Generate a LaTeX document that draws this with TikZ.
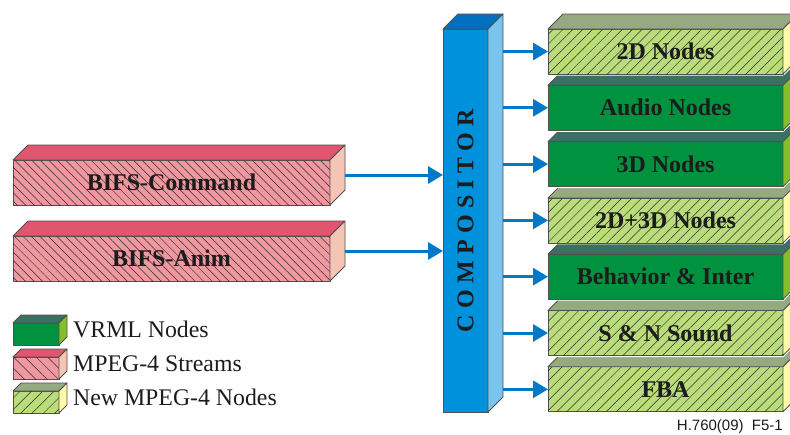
\documentclass[tikz,border=0pt]{standalone}
\usepackage{fontspec}
\setmainfont{Liberation Serif}
\newfontfamily\footfont{Liberation Sans}
\usetikzlibrary{arrows.meta,patterns.meta}

\definecolor{edgegray}{RGB}{80,80,80}
\definecolor{hatchgray}{RGB}{45,45,45}
\definecolor{labelink}{RGB}{28,28,28}
\definecolor{pinkF}{RGB}{240,152,160}
\definecolor{pinkT}{RGB}{224,86,110}
\definecolor{pinkS}{RGB}{245,196,180}
\definecolor{grnF}{RGB}{0,146,62}
\definecolor{grnT}{RGB}{60,112,100}
\definecolor{grnS}{RGB}{132,190,40}
\definecolor{limeF}{RGB}{186,220,122}
\definecolor{limeT}{RGB}{150,170,130}
\definecolor{limeS}{RGB}{255,250,170}
\definecolor{blueF}{RGB}{0,145,220}
\definecolor{blueT}{RGB}{0,112,190}
\definecolor{blueS}{RGB}{122,196,240}
\definecolor{arrowblue}{RGB}{0,120,200}

% A slab: front face as a named node, plus top and right side faces.
% #1 name, #2 left x, #3 top y, #4 width, #5 height, #6 depth, #7 colour kind, #8 label
\newcommand\slab[8]{%
  \path[fill=white, draw=white, line width=3pt, line join=round]
    (#2,#3) -- ++(#6,-#6) -- ++(#4,0) -- ++(0,#5) -- ++(-#6,#6) -- ++(-#4,0) -- cycle;
  \node[#7front, anchor=north west, minimum width=#4pt, minimum height=#5pt,
        inner sep=0pt, outer sep=0pt] (#1) at (#2,#3) {#8};
  \path[#7top] (#1.north west) -- ++(#6,-#6) -- ++(#4,0) -- (#1.north east) -- cycle;
  \path[#7side] (#1.north east) -- ++(#6,-#6) -- ++(0,#5) -- (#1.south east) -- cycle;
}

\newcommand\compword{C\kern6.3pt O\kern6.3pt M\kern6.3pt P\kern6.3pt O\kern6.3pt
  S\kern6.3pt I\kern6.3pt T\kern6.3pt O\kern6.3pt R}

\begin{document}
\begin{tikzpicture}[x=1pt,y=-1pt,
  edge/.style={draw=edgegray, line width=0.8pt, line join=round},
  boxlabel/.style={font=\bfseries\fontsize{24}{24}\selectfont, text=labelink},
  pinkhatch/.style={pattern={Lines[angle=-45,distance=6pt,line width=0.5pt]}, pattern color=hatchgray},
  limehatch/.style={pattern={Lines[angle=45,distance=7pt,line width=0.5pt]}, pattern color=hatchgray},
  pinkfront/.style={edge, fill=pinkF, postaction={pinkhatch}, boxlabel},
  pinktop/.style={edge, fill=pinkT},
  pinkside/.style={edge, fill=pinkS},
  grnfront/.style={edge, fill=grnF, boxlabel},
  grntop/.style={edge, fill=grnT},
  grnside/.style={edge, fill=grnS},
  limefront/.style={edge, fill=limeF, postaction={limehatch}, boxlabel},
  limetop/.style={edge, fill=limeT},
  limeside/.style={edge, fill=limeS},
  bluefront/.style={edge, fill=blueF, boxlabel},
  bluetop/.style={edge, fill=blueT},
  blueside/.style={edge, fill=blueS},
  legendtext/.style={font=\fontsize{23.8}{24}\selectfont, text=labelink, inner sep=0pt},
  arr/.style={draw=arrowblue, line width=3pt, -{Triangle[length=15pt,width=17pt]}},
]
\useasboundingbox (0,0) rectangle (790,434);
\clip (0,0) rectangle (790,434);

% input streams
\slab{bifscmd}{13}{160}{317}{45}{15}{pink}{BIFS-Command}
\slab{bifsanim}{13}{236}{317}{45}{15}{pink}{BIFS-Anim}

% compositor column
\slab{comp}{443}{29}{45}{383}{15}{blue}{\rotatebox{90}{\compword}}

% node groups, drawn from the bottom up so each slab hides the top of the one below
\slab{nfba}{548}{366.8}{235}{45}{15}{lime}{FBA}
\slab{nsound}{548}{310.5}{235}{45}{15}{lime}{S \& N Sound}
\slab{nbehav}{548}{254.2}{235}{45}{15}{grn}{Behavior \& Inter}
\slab{nmixed}{548}{197.9}{235}{45}{15}{lime}{2D+3D Nodes}
\slab{nthree}{548}{141.6}{235}{45}{15}{grn}{3D Nodes}
\slab{naudio}{548}{85.3}{235}{45}{15}{grn}{Audio Nodes}
\slab{ntwo}{548}{29}{235}{45}{15}{lime}{2D Nodes}

% legend
\begin{scope}[
  pinkhatch/.style={pattern={Lines[angle=-45,distance=8pt,line width=0.5pt]}, pattern color=hatchgray},
  limehatch/.style={pattern={Lines[angle=45,distance=8pt,line width=0.5pt]}, pattern color=hatchgray}]
\slab{lgvrml}{13}{323}{46}{22}{8}{grn}{}
\slab{lgstream}{13}{357}{46}{22}{8}{pink}{}
\slab{lgnew}{13}{391}{46}{22}{8}{lime}{}
\end{scope}
\node[legendtext, anchor=base west] (lgvrmltext) at (73,337.5) {VRML Nodes};
\node[legendtext, anchor=base west] (lgstreamtext) at (73,371) {MPEG-4 Streams};
\node[legendtext, anchor=base west] (lgnewtext) at (73,405.5) {New MPEG-4 Nodes};

% figure reference
\node[font=\footfont\fontsize{15}{15}\selectfont, text=labelink, anchor=base east, inner sep=0pt]
  (figref) at (783,430.5) {H.760(09)\ \ F5-1};

% connectors
\coordinate (cmdside) at ([shift={(15,-7.5)}]bifscmd.east);
\coordinate (animside) at ([shift={(15,-7.5)}]bifsanim.east);
\coordinate (compside) at ([xshift=15pt]comp.east);
\draw[arr] (cmdside) -- (comp.west |- cmdside);
\draw[arr] (animside) -- (comp.west |- animside);
\foreach \t in {ntwo,naudio,nthree,nmixed,nbehav,nsound,nfba}
  \draw[arr] (compside |- \t.west) -- (\t.west);
\end{tikzpicture}
\end{document}
